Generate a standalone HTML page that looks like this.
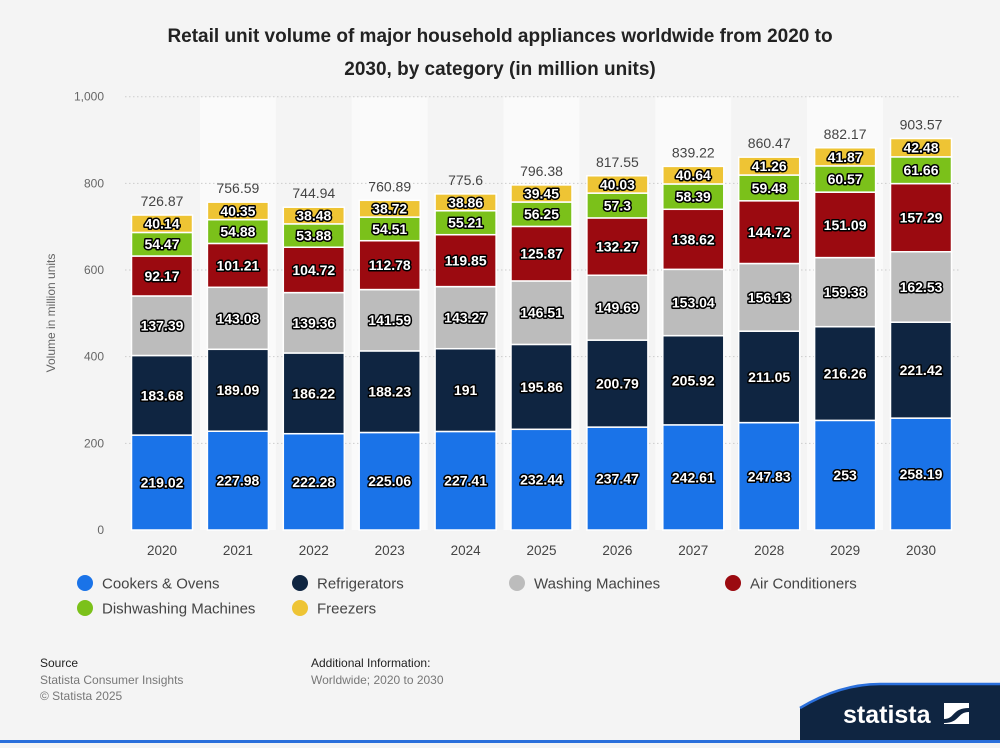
<!DOCTYPE html><html><head><meta charset="utf-8"><style>
body{margin:0;width:1000px;height:743px;background:#f4f4f4;font-family:"Liberation Sans",Arial,sans-serif;overflow:hidden}
</style></head><body>
<svg id="s" width="1000" height="743" xmlns="http://www.w3.org/2000/svg" font-family="Liberation Sans, Arial, sans-serif"></svg>
<script>
const d=[[219.02,183.68,137.39,92.17,54.47,40.14,726.87],[227.98,189.09,143.08,101.21,54.88,40.35,756.59],[222.28,186.22,139.36,104.72,53.88,38.48,744.94],[225.06,188.23,141.59,112.78,54.51,38.72,760.89],[227.41,191,143.27,119.85,55.21,38.86,775.6],[232.44,195.86,146.51,125.87,56.25,39.45,796.38],[237.47,200.79,149.69,132.27,57.3,40.03,817.55],[242.61,205.92,153.04,138.62,58.39,40.64,839.22],[247.83,211.05,156.13,144.72,59.48,41.26,860.47],[253,216.26,159.38,151.09,60.57,41.87,882.17],[258.19,221.42,162.53,157.29,61.66,42.48,903.57]];
const col=["#1a73e8","#0f2541","#bcbcbc","#9b0a10","#7bc11a","#eec434"];
const y0=530,k=0.4333;let h='';
h+=`<text x="500" y="42" text-anchor="middle" font-size="19" font-weight="bold" fill="#222">Retail unit volume of major household appliances worldwide from 2020 to</text><text x="500" y="75" text-anchor="middle" font-size="19" font-weight="bold" fill="#222">2030, by category (in million units)</text>`;
for(let i=1;i<11;i+=2){h+=`<rect x="${162+i*75.9-38}" y="97" width="75.9" height="433" fill="#fafafa"/>`}
for(let v=0;v<=1000;v+=200){const y=y0-v*k;if(v)h+=`<line x1="125" x2="960" y1="${y}" y2="${y}" stroke="#ccc" stroke-dasharray="1.5,2.5"/>`;h+=`<text x="104" y="${y+4}" text-anchor="end" font-size="12" fill="#666">${v==1000?'1,000':v}</text>`}
h+=`<text transform="translate(55,313) rotate(-90)" text-anchor="middle" font-size="12" fill="#666">Volume in million units</text>`;
d.forEach((r,i)=>{const cx=162+i*75.9;let c=0;for(let j=0;j<6;j++){const yb=y0-c*k,yt=y0-(c+r[j])*k;h+=`<rect x="${cx-30.5}" y="${yt}" width="61" height="${yb-yt}" fill="${col[j]}" stroke="#fff" stroke-width="1.5"/>`;h+=`<text x="${cx}" y="${(yb+yt)/2+5}" text-anchor="middle" font-size="14" font-weight="bold" fill="#fff" stroke="#000" stroke-width="3" stroke-linejoin="round" paint-order="stroke">${r[j]}</text>`;c+=r[j]}
h+=`<text x="${cx}" y="${y0-c*k-9}" text-anchor="middle" font-size="14" fill="#444">${r[6]}</text><text x="${cx}" y="555" text-anchor="middle" font-size="13.5" fill="#444">${2020+i}</text>`});
const L=[["Cookers & Ovens",85,583],["Refrigerators",300,583],["Washing Machines",517,583],["Air Conditioners",733,583],["Dishwashing Machines",85,608],["Freezers",300,608]];
L.forEach((l,i)=>{h+=`<circle cx="${l[1]}" cy="${l[2]}" r="8" fill="${col[i]}"/><text x="${l[1]+17}" y="${l[2]+5.5}" font-size="15" fill="#444">${l[0]}</text>`});
h+=`<text x="40" y="667" font-size="12" fill="#222">Source</text><text x="40" y="684" font-size="12" fill="#777">Statista Consumer Insights</text><text x="40" y="700" font-size="12" fill="#777">© Statista 2025</text><text x="311" y="667" font-size="12" fill="#222">Additional Information:</text><text x="311" y="684" font-size="12" fill="#777">Worldwide; 2020 to 2030</text>`;
h+=`<path d="M800,708 Q840,684 880,684 L1000,684 L1000,743 L800,743Z" fill="#0f2541"/><path d="M800,708 Q840,684 880,684 L1000,684" fill="none" stroke="#2a6fdb" stroke-width="2.5"/><rect x="0" y="740" width="1000" height="3" fill="#2a6fdb"/>`;
h+=`<text x="843" y="723" font-size="25" font-weight="bold" fill="#fff">statista</text><rect x="944" y="703" width="25" height="21" fill="#fff"/><path d="M944,719 C955,719 952,708 969,708 L969,712 C957,712 960,723 944,723Z" fill="#0f2541"/>`;
document.getElementById('s').innerHTML=h;
</script></body></html>
